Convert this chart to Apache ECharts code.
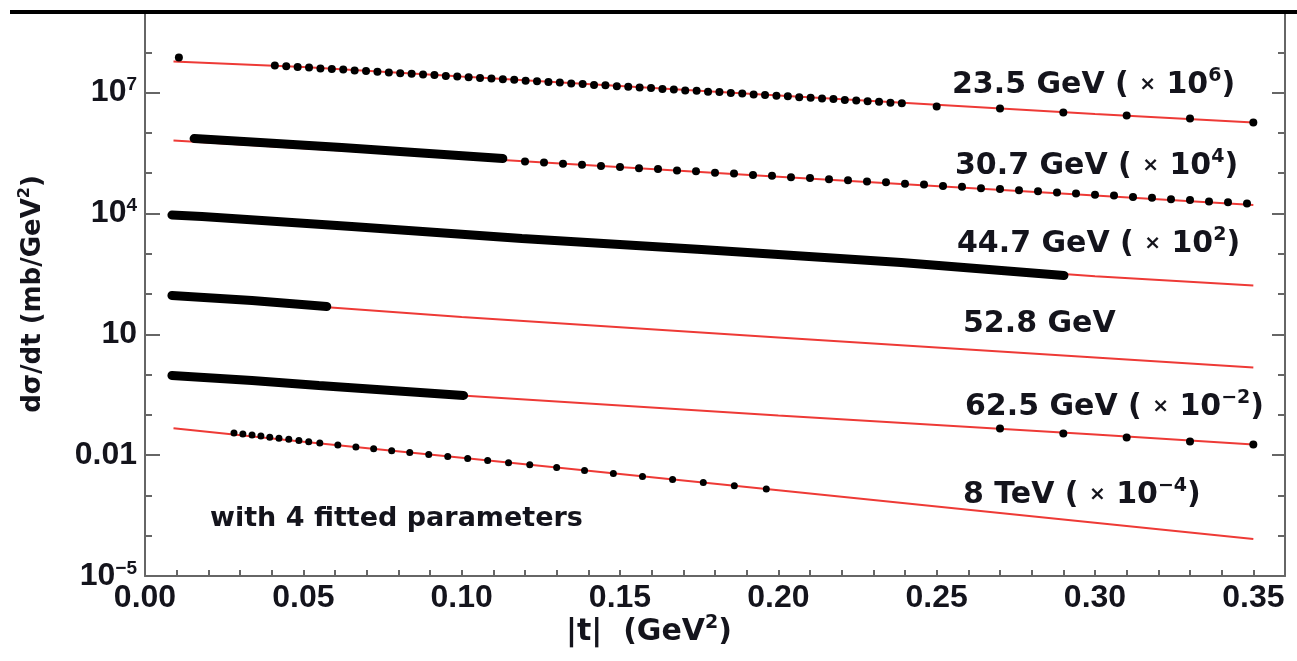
<!DOCTYPE html>
<html>
<head>
<meta charset="utf-8">
<script src="https://cdn.jsdelivr.net/npm/echarts@6/dist/echarts.min.js"></script>
<style>
  html, body { margin: 0; padding: 0; background: #fff; }
  #chart { width: 1297px; height: 661px; }
</style>
</head>
<body>
<div id="chart"></div>
<script>
// |t| positions where the fitted curves were read
var fitT = [0.009, 0.05, 0.1, 0.2, 0.3, 0.35];
var fit235 = [5.89e7, 4.30e7, 2.49e7, 8.43e6, 2.93e6, 1.80e6];
var fit307 = [6.50e5, 4.15e5, 2.43e5, 8.18e4, 2.77e4, 1.61e4];
var fit447 = [8.70e3, 5.78e3, 3.17e3, 1.01e3, 275, 163];
var fit528 = [86, 51.9, 26.9, 8.33, 2.65, 1.50];
var fit625 = [0.88, 0.552, 0.303, 0.0966, 0.0327, 0.0185];
var fit8tev = [0.0463, 0.0216, 0.00857, 0.00134, 2.09e-4, 8.24e-5];

// 23.5 GeV (x 10^6) data points
var pts235T = [0.0107,
  0.0410, 0.0446, 0.0482, 0.0518, 0.0554, 0.0590, 0.0626, 0.0662, 0.0698, 0.0734,
  0.0770, 0.0806, 0.0842, 0.0878, 0.0914, 0.0950, 0.0986, 0.1022, 0.1058, 0.1094,
  0.1130, 0.1166, 0.1202, 0.1238, 0.1274, 0.1310, 0.1346, 0.1382, 0.1418, 0.1454,
  0.1490, 0.1526, 0.1562, 0.1598, 0.1634, 0.1670, 0.1706, 0.1742, 0.1778, 0.1814,
  0.1850, 0.1886, 0.1922, 0.1958, 0.1994, 0.2030, 0.2066, 0.2102, 0.2138, 0.2174,
  0.2210, 0.2246, 0.2282, 0.2318, 0.2354, 0.2390,
  0.25, 0.27, 0.29, 0.31, 0.33, 0.35];
var pts235V = [7.38e7,
  4.70e7, 4.52e7, 4.30e7, 4.18e7, 3.98e7, 3.86e7, 3.72e7, 3.54e7, 3.44e7, 3.27e7,
  3.17e7, 3.02e7, 2.94e7, 2.80e7, 2.72e7, 2.58e7, 2.51e7, 2.41e7, 2.30e7, 2.23e7,
  2.13e7, 2.07e7, 1.97e7, 1.91e7, 1.82e7, 1.77e7, 1.68e7, 1.64e7, 1.55e7, 1.51e7,
  1.44e7, 1.40e7, 1.33e7, 1.30e7, 1.23e7, 1.20e7, 1.13e7, 1.11e7, 1.05e7, 1.03e7,
  9.70e6, 9.45e6, 8.98e6, 8.74e6, 8.32e6, 8.08e6, 7.70e6, 7.47e6, 7.12e6, 6.90e6,
  6.58e6, 6.40e6, 6.08e6, 5.90e6, 5.62e6, 5.45e6,
  4.50e6, 4.01e6, 3.19e6, 2.69e6, 2.26e6, 1.80e6];

// 30.7 GeV (x 10^4): dense band, then separate points
var band307T = [0.0155, 0.0338, 0.0621, 0.0874, 0.113];
var band307V = [7.23e5, 5.92e5, 4.32e5, 3.16e5, 2.30e5];
var pts307T = [0.120, 0.126, 0.132, 0.138, 0.144, 0.150, 0.156, 0.162, 0.168, 0.174,
  0.180, 0.186, 0.192, 0.198, 0.204, 0.210, 0.216, 0.222, 0.228, 0.234,
  0.240, 0.246, 0.252, 0.258, 0.264, 0.270, 0.276, 0.282, 0.288, 0.294,
  0.300, 0.306, 0.312, 0.318, 0.324, 0.330, 0.336, 0.342, 0.348];
var pts307V = [1.94e5, 1.83e5, 1.70e5, 1.62e5, 1.50e5, 1.43e5, 1.32e5, 1.26e5, 1.16e5, 1.11e5,
  1.02e5, 9.80e4, 9.05e4, 8.60e4, 7.95e4, 7.58e4, 7.02e4, 6.68e4, 6.20e4, 5.90e4,
  5.46e4, 5.20e4, 4.80e4, 4.58e4, 4.23e4, 4.04e4, 3.74e4, 3.55e4, 3.30e4, 3.13e4,
  2.90e4, 2.77e4, 2.56e4, 2.44e4, 2.25e4, 2.15e4, 1.98e4, 1.90e4, 1.77e4];

// 44.7 GeV (x 10^2) band
var band447T = [0.0085, 0.018, 0.0653, 0.119, 0.1757, 0.2388, 0.2902];
var band447V = [9.12e3, 8.38e3, 4.73e3, 2.38e3, 1.27e3, 605, 288];

// 52.8 GeV band
var band528T = [0.0085, 0.0338, 0.0574];
var band528V = [91.8, 69.0, 49.0];

// 62.5 GeV (x 10^-2): band plus points at large |t|
var band625T = [0.0085, 0.0338, 0.0549, 0.1006];
var band625V = [0.951, 0.714, 0.537, 0.303];
var pts625T = [0.27, 0.29, 0.31, 0.33, 0.35];
var pts625V = [0.046, 0.0345, 0.0275, 0.0219, 0.0185];

// 8 TeV (x 10^-4)
var pts8T = [0.0281, 0.0309, 0.0338, 0.0366, 0.0394, 0.0423, 0.0454, 0.0486, 0.0517, 0.0552,
  0.0609, 0.0666, 0.0722, 0.0779, 0.0836, 0.0896, 0.0956, 0.1019, 0.1082, 0.1148,
  0.1215, 0.1300, 0.1388, 0.1479, 0.1571, 0.1666, 0.1763, 0.1861, 0.1962];
var pts8V = [0.0357, 0.0335, 0.0314, 0.0298, 0.0279, 0.0262, 0.0247, 0.0231, 0.0215, 0.0201,
  0.0179, 0.0160, 0.0144, 0.0129, 0.0116, 0.0104, 0.00931, 0.00828, 0.00736, 0.00652,
  0.00575, 0.00492, 0.00417, 0.00352, 0.00297, 0.00249, 0.00208, 0.00173, 0.00144];

// labelled decades on the y axis (major ticks)
var yLabelExps = [-5, -2, 1, 4, 7];
var yMajorVals = yLabelExps.map(function (e) { return Math.pow(10, e); });

var labelFont = 'Liberation Sans, Arial, sans-serif';
var textFont = 'DejaVu Sans, sans-serif';
var ink = '#14141c';
var red = '#ee3a36';
var axisGray = '#666';

function zip(ts, vs) {
  return ts.map(function (t, i) { return [t, vs[i]]; });
}

function fitLine(vals) {
  return {
    type: 'line', data: zip(fitT, vals), showSymbol: false, silent: true,
    lineStyle: { color: red, width: 2 }, z: 1
  };
}
function band(ts, vs, w) {
  return {
    type: 'line', data: zip(ts, vs), showSymbol: false, silent: true,
    lineStyle: { color: '#000', width: w, cap: 'round' }, z: 3
  };
}
function dots(ts, vs, size) {
  return {
    type: 'scatter', data: zip(ts, vs), symbol: 'circle', symbolSize: size,
    itemStyle: { color: '#000', opacity: 1 }, z: 4
  };
}

function yLabel(v) {
  var e = Math.round(Math.log10(v));
  if (yLabelExps.indexOf(e) < 0) return '';
  if (e === 1) return '10';
  if (e === -2) return '0.01';
  return '10{s|' + (e < 0 ? '\u2212' + (-e) : e) + '}';
}

var supRich = {
  s: { fontSize: 19, fontWeight: 'bold', lineHeight: 18, verticalAlign: 'top', fontFamily: labelFont, color: ink }
};

var myChart = echarts.init(document.getElementById('chart'));
var logAxis = {
  type: 'log', logBase: 10, min: 1e-5, max: 1e9, splitLine: { show: false }
};

function annot(left, top, text) {
  return {
    type: 'text', left: left, top: top,
    style: {
      text: text, font: 'bold 30px ' + textFont, fill: ink, lineHeight: 36,
      rich: {
        s: { fontSize: 19, fontWeight: 'bold', lineHeight: 20, verticalAlign: 'top', fontFamily: textFont, fill: ink },
        x: { fontSize: 20, fontWeight: 'bold', lineHeight: 36, fontFamily: textFont, fill: ink }
      }
    }
  };
}

option = {
  animation: false,
  backgroundColor: '#fff',
  grid: { left: 145, right: 12, top: 12, bottom: 85 },
  xAxis: {
    type: 'value', min: 0, max: 0.36, interval: 0.01,
    axisLine: { lineStyle: { color: axisGray, width: 2 } },
    axisTick: { inside: true, length: 6, lineStyle: { color: axisGray, width: 2 } },
    axisLabel: {
      fontSize: 32, fontWeight: 'bold', fontFamily: labelFont, color: ink, margin: 6,
      formatter: function (v) {
        var k = Math.round(v * 100);
        return k % 5 === 0 ? v.toFixed(2) : '';
      }
    },
    splitLine: { show: false }
  },
  yAxis: [
    Object.assign({}, logAxis, {
      position: 'left', interval: 1,
      axisLine: { show: true, lineStyle: { color: axisGray, width: 2 } },
      axisTick: { inside: true, length: 7, lineStyle: { color: axisGray, width: 2 } },
      axisLabel: {
        fontSize: 32, fontWeight: 'bold', fontFamily: labelFont, color: ink, margin: 8, lineHeight: 34,
        formatter: yLabel, rich: supRich
      },
      name: 'd\u03c3/dt (mb/GeV{s|2})', nameLocation: 'middle', nameGap: 96, nameRotate: 90,
      nameTextStyle: {
        fontSize: 26, fontWeight: 'bold', fontFamily: textFont, color: ink, lineHeight: 32,
        rich: { s: { fontSize: 16, fontWeight: 'bold', lineHeight: 16, verticalAlign: 'top', fontFamily: textFont, color: ink } }
      }
    }),
    Object.assign({}, logAxis, {
      position: 'left',
      axisLine: { show: false },
      axisTick: { inside: true, length: 15, customValues: yMajorVals, lineStyle: { color: axisGray, width: 2 } },
      axisLabel: { show: false }
    }),
    Object.assign({}, logAxis, {
      position: 'right', interval: 1,
      axisLine: { show: true, lineStyle: { color: axisGray, width: 2 } },
      axisTick: { inside: true, length: 7, lineStyle: { color: axisGray, width: 2 } },
      axisLabel: { show: false }
    }),
    Object.assign({}, logAxis, {
      position: 'right',
      axisLine: { show: false },
      axisTick: { inside: true, length: 13, customValues: yMajorVals, lineStyle: { color: axisGray, width: 2 } },
      axisLabel: { show: false }
    })
  ],
  series: [
    fitLine(fit235), fitLine(fit307), fitLine(fit447),
    fitLine(fit528), fitLine(fit625), fitLine(fit8tev),
    band(band307T, band307V, 9),
    band(band447T, band447V, 9),
    band(band528T, band528V, 9),
    band(band625T, band625V, 9),
    dots(pts235T, pts235V, 8),
    dots(pts307T, pts307V, 8),
    dots(pts625T, pts625V, 8),
    dots(pts8T, pts8V, 7)
  ],
  graphic: [
    { type: 'rect', shape: { x: 10, y: 10, width: 1287, height: 4 }, style: { fill: '#000' }, z: 100 },
    annot(952, 67, '23.5 GeV ( {x|\u00d7} 10{s|6})'),
    annot(955, 148, '30.7 GeV ( {x|\u00d7} 10{s|4})'),
    annot(957, 226, '44.7 GeV ( {x|\u00d7} 10{s|2})'),
    annot(963, 306, '52.8 GeV'),
    annot(965, 389, '62.5 GeV ( {x|\u00d7} 10{s|\u22122})'),
    annot(963, 477, '8 TeV ( {x|\u00d7} 10{s|\u22124})'),
    {
      type: 'text', left: 210, top: 505,
      style: { text: 'with 4 fitted parameters', font: 'bold 27px ' + textFont, fill: ink }
    },
    {
      type: 'text', left: 566, top: 614,
      style: {
        text: '|t|  (GeV{s|2})', font: 'bold 30px ' + textFont, fill: ink, lineHeight: 36,
        rich: { s: { fontSize: 19, fontWeight: 'bold', lineHeight: 20, verticalAlign: 'top', fontFamily: textFont, fill: ink } }
      }
    }
  ]
};
myChart.setOption(option);
</script>
</body>
</html>
